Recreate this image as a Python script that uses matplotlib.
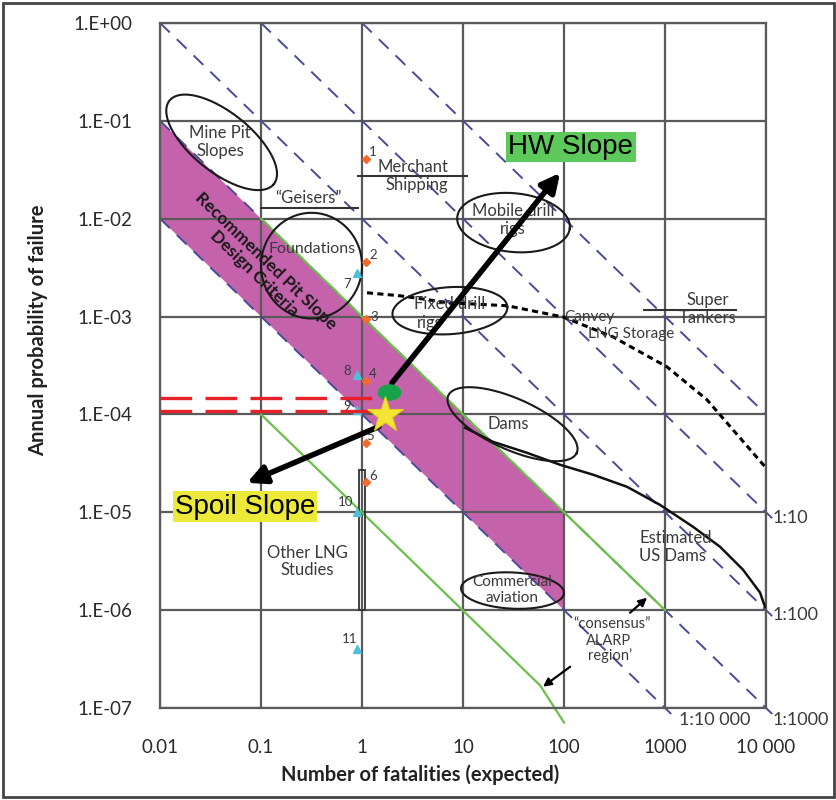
import numpy as np
import matplotlib
matplotlib.use("Agg")
import matplotlib.pyplot as plt
from matplotlib.path import Path
from matplotlib.transforms import Affine2D
from matplotlib.patches import Rectangle

# axis ticks
x_ticks = [0.01, 0.1, 1, 10, 100, 1000, 10000]
x_labels = ["0.01", "0.1", "1", "10", "100", "1000", "10 000"]
y_ticks = [1, 1e-1, 1e-2, 1e-3, 1e-4, 1e-5, 1e-6, 1e-7]
y_labels = ["1.E+00", "1.E-01", "1.E-02", "1.E-03", "1.E-04", "1.E-05", "1.E-06", "1.E-07"]

# iso-risk lines F*N = const (start / end points)
risk_names = ["1:1", "1:10", "1:100", "1:1000", "1:10 000"]
risk_n0 = [1, 0.1, 0.01, 0.01, 0.01]
risk_f0 = [1, 1, 1, 0.1, 0.01]
risk_n1 = [10000, 11500, 11500, 11500, 1150]
risk_f1 = [1e-4, 8.7e-6, 8.7e-7, 8.7e-8, 8.7e-8]

# recommended pit slope design band
band_n = [0.01, 100, 100, 0.01]
band_f = [0.1, 1e-5, 1e-6, 1e-2]

# green "consensus" ALARP lines
alarp_hi_n = [0.1, 1000]
alarp_hi_f = [1e-2, 1e-6]
alarp_lo_n = [0.1, 58, 100]
alarp_lo_f = [1e-4, 1.7e-7, 7.1e-8]

# Canvey LNG storage curve
canvey_n = [1.12, 2.38, 7.43, 27.3, 97.7, 305, 1047, 2606, 4710, 9770]
canvey_f = [1.75e-3, 1.63e-3, 1.38e-3, 1.29e-3, 9.9e-4, 6.2e-4, 3.06e-4, 1.41e-4, 6.96e-5, 2.92e-5]

# estimated US dams curve
dams_n = [10.5, 19.8, 43.0, 91.2, 194, 421, 892, 1892, 3506, 5916, 8730, 9770]
dams_f = [7.3e-5, 5.25e-5, 4.05e-5, 3.06e-5, 2.42e-5, 1.82e-5, 1.19e-5, 7.11e-6, 4.44e-6,
          2.59e-6, 1.51e-6, 1.08e-6]

# numbered case points
pt_labels = ["1", "2", "3", "4", "5", "6", "7", "8", "9", "10", "11"]
pt_n = [1.1, 1.1, 1.1, 1.1, 1.1, 1.1, 0.89, 0.89, 0.89, 0.89, 0.89]
pt_f = [0.0408, 3.62e-3, 9.5e-4, 2.2e-4, 5.13e-5, 2.05e-5, 2.79e-3, 2.54e-4, 1.11e-4, 1.01e-5, 4.03e-7]
pt_offset = [(5, 5), (5, 5), (6, 1), (5, 5), (3, 5), (5, 4), (-7, -8), (-7, 3), (-7, 3), (-8, 7), (-5, 7)]

# other LNG studies range
lng_n = [0.933, 1.07]
lng_f = [1e-6, 2.7e-5]

# slope design targets
hw_n, hw_f = 1.85, 1.70e-4
spoil_n, spoil_f = 1.69, 9.9e-5
target_f = [1.48e-4, 1.09e-4]

# industry ellipses: centre (log N, log F), half axes in decades, angle
ell_names = ["mine", "found", "mobile", "fixed", "dams", "aviation"]
ell_cx = [-1.39, -0.50, 1.50, 0.87, 1.49, 1.49]
ell_cy = [-1.22, -2.48, -2.04, -2.94, -4.10, -5.80]
ell_a = [0.67, 0.50, 0.56, 0.57, 0.70, 0.51]
ell_b = [0.30, 0.54, 0.30, 0.24, 0.26, 0.185]
ell_ang = [-40, 0, -6, 4, -25, -3]

TXT = "#3a3a3a"
LABEL_FONT = ["Lato", "DejaVu Sans"]

fig = plt.figure(figsize=(8.37, 8.0), dpi=100)
ax = fig.add_axes([0.1912, 0.115, 0.724, 0.8563])
ax.set_xscale("log")
ax.set_yscale("log")
ax.set_xlim(0.01, 10000)
ax.set_ylim(1e-7, 1)
ax.minorticks_off()
ax.set_xticks(x_ticks)
ax.set_xticklabels(x_labels)
ax.set_yticks(y_ticks)
ax.set_yticklabels(y_labels)
ax.tick_params(length=0, labelsize=13.5, labelcolor="#2a2a2a")
ax.tick_params(axis="x", pad=22)
ax.tick_params(axis="y", pad=20)
for lab in ax.get_xticklabels() + ax.get_yticklabels():
    lab.set_family(LABEL_FONT)
ax.set_axisbelow("line")
ax.grid(True, color="#5a5a5a", lw=1.6)
for s in ax.spines.values():
    s.set_color("#5a5a5a")
    s.set_linewidth(1.6)

# band
ax.fill(band_n, band_f, color="#c463ab", lw=0, zorder=1)

# iso-risk lines
for i in range(len(risk_names)):
    ax.plot([risk_n0[i], risk_n1[i]], [risk_f0[i], risk_f1[i]], color="#4a4a98",
            lw=1.4, ls=(0, (7, 5)), clip_on=False, zorder=2)

ax.plot(alarp_hi_n, alarp_hi_f, color="#6cc04a", lw=1.6, zorder=2.2)
ax.plot(alarp_lo_n, alarp_lo_f, color="#6cc04a", lw=1.6, zorder=2.2, clip_on=False)

ax.plot(canvey_n, canvey_f, color="k", lw=2.2, ls=(0, (2, 1.4)), zorder=3)
ax.plot(dams_n, dams_f, color="#111111", lw=1.8, zorder=3)

# ellipses
t = np.linspace(0, 2 * np.pi, 200)
for i in range(len(ell_names)):
    th = np.radians(ell_ang[i])
    ex = ell_a[i] * np.cos(t)
    ey = ell_b[i] * np.sin(t)
    lx = ell_cx[i] + ex * np.cos(th) - ey * np.sin(th)
    ly = ell_cy[i] + ex * np.sin(th) + ey * np.cos(th)
    ax.plot(10 ** lx, 10 ** ly, color="#1a1a1a", lw=1.5, zorder=3)

# label underlines
ax.plot([0.1, 0.91], [0.0129, 0.0129], color="#333333", lw=1.5, zorder=3)
ax.plot([0.91, 11], [0.0274, 0.0274], color="#333333", lw=1.5, zorder=3)
ax.plot([620, 5050], [1.17e-3, 1.17e-3], color="#333333", lw=1.5, zorder=3)

# LNG studies range bar
ax.add_patch(Rectangle((lng_n[0], lng_f[0]), lng_n[1] - lng_n[0], lng_f[1] - lng_f[0],
                       fill=False, ec="#333333", lw=1.3, zorder=3))

# points
for i, lab in enumerate(pt_labels):
    if i < 6:
        ax.plot(pt_n[i], pt_f[i], marker="D", ms=4.5, color="#f26a2e", zorder=4)
    else:
        ax.plot(pt_n[i], pt_f[i], marker="^", ms=5.5, color="#4dbfd6", zorder=4)
    ax.annotate(lab, (pt_n[i], pt_f[i]), xytext=pt_offset[i], textcoords="offset points",
                ha="center", va="center", fontsize=9.5, color=TXT, family=LABEL_FONT, zorder=4)

# target probability lines
for f in target_f:
    ax.plot([0.01, 1.5], [f, f], color="#e62129", lw=2.4, ls=(0, (9.5, 4)), zorder=4)

# arrows to slope labels
arrow_kw = dict(arrowstyle="-|>", color="k", lw=4, mutation_scale=28, shrinkA=0, shrinkB=0)
ax.annotate("", xy=(91.5, 0.0294), xytext=(1.98, 2.1e-4), arrowprops=arrow_kw, zorder=5)
ax.annotate("", xy=(0.0727, 2.0e-5), xytext=(1.47, 7.5e-5), arrowprops=arrow_kw, zorder=5)
small_kw = dict(arrowstyle="-|>", color="k", lw=1.6, mutation_scale=12, shrinkA=0, shrinkB=0)
ax.annotate("", xy=(664, 1.34e-6), xytext=(450, 9.4e-7), arrowprops=small_kw, zorder=5)
ax.annotate("", xy=(61.9, 1.65e-7), xytext=(115, 2.64e-7), arrowprops=small_kw, zorder=5,
            annotation_clip=False)

ell_marker = Affine2D().scale(1, 0.68).transform_path(Path.unit_circle())
ax.plot(hw_n, hw_f, marker=ell_marker, ms=16, color="#17a34a", zorder=6)
ax.plot(spoil_n, spoil_f, marker="*", ms=27, color="#f4e433", mec="#e6d21c", mew=0.8, zorder=6)

ax.text(117, 0.054, "HW Slope", fontsize=20, family="Liberation Sans", ha="center", va="center",
        bbox=dict(boxstyle="square,pad=0.08", fc="#5dc95b", ec="none"), zorder=7)
ax.text(0.0695, 1.14e-5, "Spoil Slope", fontsize=20, family="Liberation Sans", ha="center",
        va="center", bbox=dict(boxstyle="square,pad=0.08", fc="#ece93a", ec="none"), zorder=7)

# annotations
def note(x, y, s, ha="center", size=12):
    ax.text(x, y, s, ha=ha, va="center", fontsize=size, color=TXT, family=LABEL_FONT,
            zorder=4, clip_on=False)

note(0.0393, 0.0609, "Mine Pit\nSlopes")
note(0.292, 0.0163, "\u201cGeisers\u201d")
note(3.2, 0.0338, "Merchant")
note(3.5, 0.0221, "Shipping")
note(0.32, 4.9e-3, "Foundations", size=11.5)
note(31.3, 0.012, "Mobile drill")
note(31, 7.87e-3, "rigs")
note(7.43, 1.35e-3, "Fixed drill")
note(4.7, 8.6e-4, "rigs")
note(100, 9.9e-4, "Canvey", ha="left", size=11)
note(173, 6.66e-4, "LNG Storage", ha="left", size=11)
note(2667, 1.48e-3, "Super")
note(2667, 9.7e-4, "Tankers")
note(27.9, 8.0e-5, "Dams")
note(30.5, 1.95e-6, "Commercial", size=11)
note(30.5, 1.34e-6, "aviation", size=11)
note(553, 5.5e-6, "Estimated", ha="left")
note(553, 3.6e-6, "US Dams", ha="left")
note(299, 7.3e-7, "\u201cconsensus\u201d", size=10.5)
note(273, 4.87e-7, "ALARP", size=10.5)
note(285, 3.42e-7, "region\u2019", size=10.5)
note(0.285, 3.86e-6, "Other LNG")
note(0.285, 2.59e-6, "Studies")
note(11700, 8.8e-6, "1:10", ha="left", size=13)
note(11700, 9.0e-7, "1:100", ha="left", size=13)
note(11600, 7.6e-8, "1:1000", ha="left", size=13)
note(3126, 7.6e-8, "1:10 000", size=13)

ax.text(0.098, 3.22e-3, "Recommended Pit Slope\nDesign Criteria", rotation=-44,
        ha="center", va="center", fontsize=12.5, fontweight="bold", color="#1a1a1a",
        family=LABEL_FONT, zorder=4, linespacing=1.1)

fig.text(420 / 837, 1 - 775 / 800, "Number of fatalities (expected)", ha="center", va="center",
         fontsize=14.5, fontweight="bold", color="#222222", family=LABEL_FONT)
fig.text(38 / 837, 1 - 330 / 800, "Annual probability of failure", ha="center", va="center",
         rotation=90, fontsize=14.5, fontweight="bold", color="#222222", family=LABEL_FONT)

fig.patches.append(Rectangle((0.004, 0.004), 0.992, 0.992, transform=fig.transFigure,
                             fill=False, ec="#444444", lw=2))

fig.savefig("out.png", dpi=100)
